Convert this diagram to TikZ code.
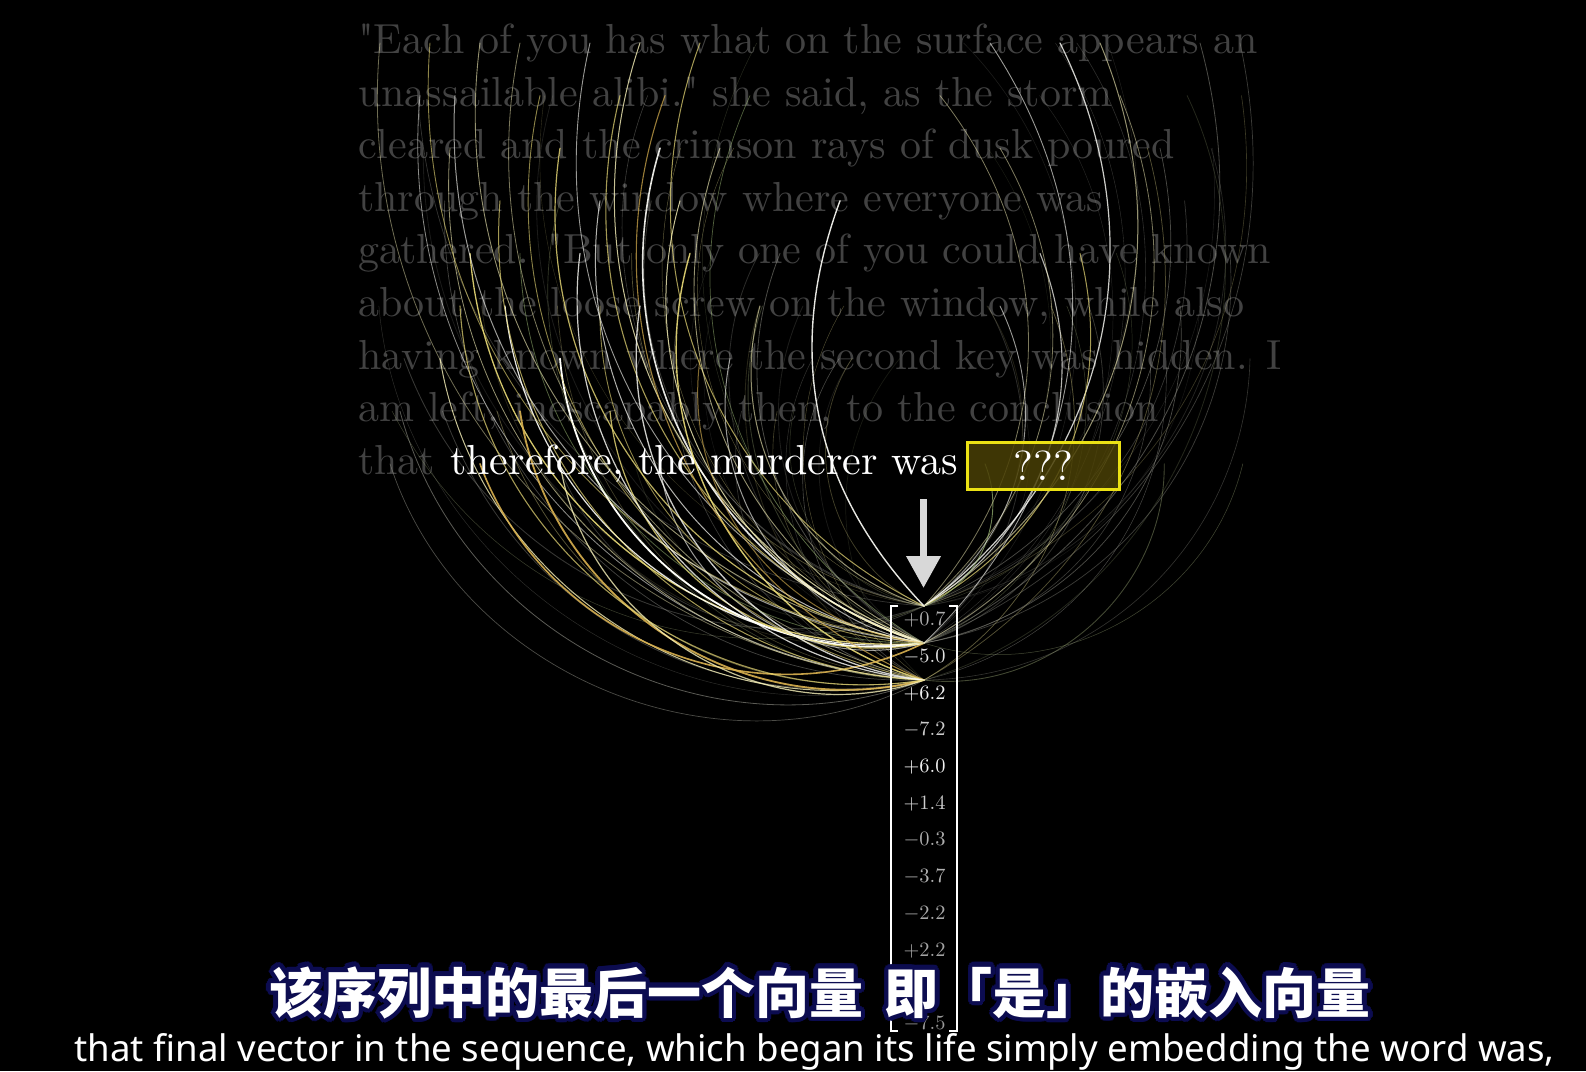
\documentclass[tikz,border=0pt]{standalone}
\usepackage{fontspec}
\usepackage{graphicx}
\usetikzlibrary{arrows.meta}
\newfontfamily\cjkfont{Noto Sans CJK SC}
\newfontfamily\subfont{Noto Sans}
\newfontfamily\lmq{Latin Modern Roman}
\definecolor{paratext}{RGB}{66,66,66}
\definecolor{boxyellow}{RGB}{235,225,20}
\definecolor{boxfill}{RGB}{74,64,6}
\definecolor{arrowgray}{RGB}{216,216,216}
\definecolor{halo}{RGB}{12,12,80}
\definecolor{cw}{RGB}{255,255,250}
\definecolor{cpy}{RGB}{248,242,185}
\definecolor{cy}{RGB}{235,220,120}
\definecolor{cgold}{RGB}{218,178,80}
\definecolor{cgreen}{RGB}{160,190,120}
\definecolor{cgray}{RGB}{150,150,140}
\definecolor{crnd0}{RGB}{200,200,190}
\definecolor{crnd1}{RGB}{230,220,140}
\definecolor{crnd2}{RGB}{170,185,130}
\definecolor{crnd3}{RGB}{140,140,130}
\newcommand\cjkline{该序列中的最后一个向量\hspace{0.4em}即「是」的嵌入向量}
\newcommand\sq{{\lmq"}}
\begin{document}
\begin{tikzpicture}[x=1pt,y=1pt,
  para/.style={inner sep=0pt, anchor=base west, text=paratext},
  num/.style={inner sep=0pt, anchor=center},
  bracket/.style={draw=white, line width=2.5pt},
  cjksub/.style={inner sep=0pt, anchor=base, font=\cjkfont\bfseries\fontsize{54}{60}\selectfont},
  ensub/.style={inner sep=0pt, anchor=base, text=white, font=\subfont\fontsize{36.6}{44}\selectfont},
  arc/.style={line cap=round}]
\fill[black] (0,0) rectangle (1586,-1071);
\useasboundingbox (0,0) rectangle (1586,-1071);

% paragraph
\node[para] (p1) at (358,-53.5) {\scalebox{4.2}{\sq Each of you has what on the surface appears an}};
\node[para] (p2) at (358,-106.1) {\scalebox{4.2}{unassailable alibi.\sq{} she said, as the storm}};
\node[para] (p3) at (358,-158.7) {\scalebox{4.2}{cleared and the crimson rays of dusk poured}};
\node[para] (p4) at (358,-211.3) {\scalebox{4.2}{through the window where everyone was}};
\node[para] (p5) at (358,-263.9) {\scalebox{4.2}{gathered. \sq But only one of you could have known}};
\node[para] (p6) at (358,-316.5) {\scalebox{4.2}{about the loose screw on the window, while also}};
\node[para] (p7) at (358,-369.1) {\scalebox{4.2}{having known where the second key was hidden. I}};
\node[para] (p8) at (358,-421.7) {\scalebox{4.2}{am left, inescapably then, to the conclusion}};
\node[para] (p9) at (358,-474.3) {\scalebox{4.2}{that}};

% targets
\coordinate (t0) at (924,-606);
\coordinate (t1) at (924,-643);
\coordinate (t2) at (924,-680);

% faint random arcs
\pgfmathsetseed{4242}
\foreach \k in {1,...,60}{
  \pgfmathsetmacro\sx{375+875*rnd}
  \pgfmathtruncatemacro\ln{min(9,int(1+9*rnd))}
  \pgfmathtruncatemacro\t{min(2,int(3*rnd))}
  \pgfmathsetmacro\b{36+14*rnd}
  \pgfmathtruncatemacro\ci{min(3,int(4*rnd))}
  \pgfmathsetmacro\o{0.12+0.3*rnd}
  \pgfmathsetmacro\w{0.4+0.5*rnd}
  \pgfmathsetmacro\sy{43+52.6*(\ln-1)}
  \pgfmathsetmacro\bb{ifthenelse(\sx<924,-\b-4,\b)}
  \coordinate (rs\k) at (\sx,-\sy);
  \draw[arc, draw=crnd\ci, draw opacity=\o, line width=\w pt] (rs\k) to[bend left=\bb] (t\t);
}

% main arcs
\foreach \sx/\ln/\t/\b/\c/\o/\w [count=\k] in {
380/1/2/46/cpy/0.45/0.8,
420/2/2/46/cw/0.55/0.8,
470/5/1/45/cy/0.9/1.3,
505/6/1/45/cw/0.9/1.2,
440/7/2/47/cpy/0.8/1.0,
400/8/2/48/cgray/0.6/0.8,
390/9/2/50/cgray/0.5/0.7,
560/3/1/45/cy/0.8/1.2,
600/4/1/45/cw/0.7/1.0,
640/1/1/44/cpy/0.8/1.0,
700/1/0/42/cy/0.7/1.0,
660/3/1/45/cw/0.9/1.6,
690/5/2/45/cy/0.9/1.4,
560/7/1/47/cw/1/1.8,
520/8/2/48/cgold/0.9/1.8,
610/8/1/48/cy/0.8/1.2,
480/9/1/48/cgold/0.9/1.6,
560/9/2/50/cpy/0.8/1.2,
660/9/1/50/cw/0.6/1.0,
760/6/0/44/cpy/0.6/1.0,
840/4/0/32/cw/0.9/1.4,
750/2/1/42/cgreen/0.5/0.7,
540/2/2/46/cy/0.6/0.9,
450/3/2/46/cpy/0.6/0.8,
730/7/1/46/cw/0.6/1.0,
600/6/1/45/cy/0.6/0.9,
480/1/1/44/cpy/0.6/0.9,
620/2/1/43/cy/0.7/1.1,
680/4/1/45/cpy/0.8/1.0,
500/4/2/46/cy/0.7/1.0,
580/5/2/46/cw/0.8/1.2,
430/1/1/44/cy/0.6/0.9,
455/2/1/44/cw/0.6/1.0,
520/1/2/44/cpy/0.5/0.8,
590/1/1/42/cw/0.6/0.9,
665/2/2/44/cgold/0.7/1.1,
720/3/1/43/cpy/0.6/0.9,
640/6/2/46/cw/0.8/1.3,
520/5/1/45/cgreen/0.5/0.8,
460/6/2/48/cy/0.7/1.1,
700/7/1/46/cgold/0.6/1.0,
780/5/1/42/cgray/0.5/0.8,
1060/1/0/40/cw/0.8/1.2,
1100/1/0/40/cpy/0.6/1.0,
1200/1/1/40/cgray/0.5/0.8,
1240/1/1/40/cgray/0.4/0.7,
1040/5/0/40/cw/0.7/1.1,
1080/5/0/38/cy/0.7/1.0,
1230/5/1/42/cgray/0.4/0.7,
1180/6/1/42/cgray/0.5/0.7,
1000/3/0/40/cpy/0.5/0.8,
1150/7/1/42/cgray/0.4/0.6,
985/9/0/45/cgreen/0.7/0.9,
940/2/0/40/cpy/0.5/0.8,
1000/6/0/40/cw/0.6/0.9,
1250/7/2/44/cgray/0.35/0.6,
990/1/1/40/cw/0.6/0.9,
1160/3/0/40/cgray/0.5/0.7,
1120/2/1/42/cpy/0.5/0.8}{
  \pgfmathsetmacro\sy{43+52.6*(\ln-1)}
  \pgfmathsetmacro\bb{ifthenelse(\sx<924,-\b,\b)}
  \coordinate (ms\k) at (\sx,-\sy);
  \draw[arc, draw=\c, draw opacity=\o, line width=\w pt] (ms\k) to[bend left=\bb] (t\t);
}

% current line
\node[para, text=white] (w9) at (450,-474.3) {\scalebox{4.2}{therefore, the murderer was}};
\node[draw=boxyellow, line width=2.8pt, fill=boxfill, fill opacity=0.85, minimum width=152pt, minimum height=47pt, inner sep=0pt] (qbox) at (1043.5,-466) {};
\node[para, anchor=base, text=white] (qq) at (1043.5,-480) {\scalebox{4.2}{???}};

% arrow
\coordinate (arrTop) at (923.5,-499);
\coordinate (arrTip) at (923.5,-588);
\draw[arrowgray, line width=7pt, -{Triangle[width=33pt,length=32pt]}] (arrTop) -- (arrTip);

% vector
\draw[bracket] (898,-606) -- (891,-606) -- (891,-1031) -- (898,-1031);
\draw[bracket] (949,-606) -- (957,-606) -- (957,-1031) -- (949,-1031);
\node[num, text=white!68!black] (e0) at (924.5,-620) {\scalebox{2.04}{$+0.7$}};
\node[num, text=white!88!black] (e1) at (924.5,-656.7) {\scalebox{2.04}{$-5.0$}};
\node[num, text=white!94!black] (e2) at (924.5,-693.4) {\scalebox{2.04}{$+6.2$}};
\node[num, text=white!80!black] (e3) at (924.5,-730.1) {\scalebox{2.04}{$-7.2$}};
\node[num, text=white!94!black] (e4) at (924.5,-766.8) {\scalebox{2.04}{$+6.0$}};
\node[num, text=white!80!black] (e5) at (924.5,-803.5) {\scalebox{2.04}{$+1.4$}};
\node[num, text=white!68!black] (e6) at (924.5,-840.2) {\scalebox{2.04}{$-0.3$}};
\node[num, text=white!70!black] (e7) at (924.5,-876.9) {\scalebox{2.04}{$-3.7$}};
\node[num, text=white!66!black] (e8) at (924.5,-913.6) {\scalebox{2.04}{$-2.2$}};
\node[num, text=white!64!black] (e9) at (924.5,-950.3) {\scalebox{2.04}{$+2.2$}};
\node[num, text=white!60!black] (e11) at (924.5,-1023.7) {\scalebox{2.04}{$-7.5$}};

% Chinese subtitle with halo
\foreach \a [count=\k] in {0,22.5,...,337.5}{
  \node[cjksub, text=halo] (haloA\k) at ([shift={(\a:4.5)}]820,-1013) {\cjkline};
}
\foreach \a [count=\k] in {0,45,...,315}{
  \node[cjksub, text=halo] (haloB\k) at ([shift={(\a:2.2)}]820,-1013) {\cjkline};
}
\node[cjksub, text=white] (zh) at (820,-1013) {\cjkline};

% English subtitle
\node[ensub] (en) at (814.5,-1061) {that final vector in the sequence, which began its life simply embedding the word was,};
\end{tikzpicture}
\end{document}
